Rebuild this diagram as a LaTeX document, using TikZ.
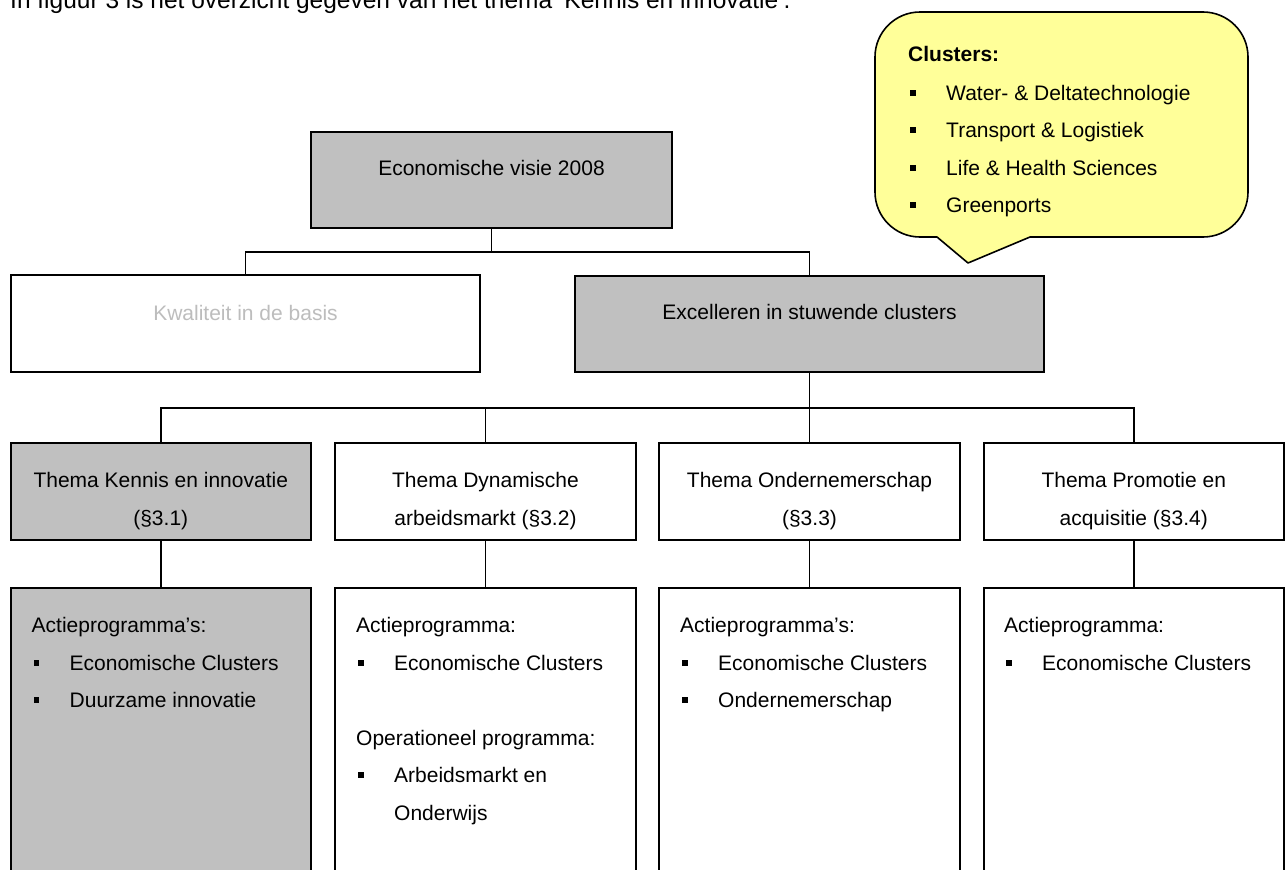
\documentclass[tikz,border=0pt]{standalone}
\usepackage{fontspec}
\setmainfont{Liberation Sans}
\definecolor{boxgray}{HTML}{C0C0C0}
\definecolor{callyellow}{HTML}{FFFF99}
\definecolor{fadetext}{HTML}{BDBDBD}
\newcommand{\bulitem}{\hspace*{2pt}\makebox[36pt][l]{\rule[4.5pt]{5.5pt}{6pt}}}
\tikzset{
  box/.style={draw, line width=2pt, inner sep=0pt, fill=white},
  graybox/.style={box, fill=boxgray},
  conn/.style={line width=1.6pt},
  txt/.style={inner sep=0pt, font=\fontsize{21}{37.5}\selectfont},
}
\begin{document}
\begin{tikzpicture}[x=1pt,y=-1pt]
\path[use as bounding box, clip] (0,0) rectangle (1285,870);

% intro sentence (cut at top, as in the source page)
\node[inner sep=0pt, font=\fontsize{24.5}{30}\selectfont, anchor=base west] (intro) at (10,8.5) {In figuur 3 is het overzicht gegeven van het thema `Kennis en innovatie'.};

% level 1
\node[graybox, minimum width=361pt, minimum height=96pt] (vis) at (491.5,180) {};
\node[txt, anchor=base] (vist) at (491.5,175.5) {Economische visie 2008};

% level 2
\node[box, minimum width=469pt, minimum height=97pt] (kwal) at (245.5,323.5) {};
\node[txt, anchor=base, text=fadetext] (kwalt) at (245.5,320.5) {Kwaliteit in de basis};
\node[graybox, minimum width=469pt, minimum height=96pt] (exc) at (809.5,324) {};
\node[txt, anchor=base] (exct) at (809.5,319.5) {Excelleren in stuwende clusters};

% level 3 (themes)
\node[graybox, minimum width=300.5pt, minimum height=97pt] (t1) at (160.75,491.5) {};
\node[box, minimum width=301pt, minimum height=97pt] (t2) at (485.5,491.5) {};
\node[box, minimum width=301pt, minimum height=97pt] (t3) at (809.5,491.5) {};
\node[box, minimum width=300.5pt, minimum height=97pt] (t4) at (1133.75,491.5) {};
\node[txt, anchor=base] (t1t) at (160.75,487.5) {\begin{tabular}[t]{@{}c@{}}Thema Kennis en innovatie\\(§3.1)\end{tabular}};
\node[txt, anchor=base] (t2t) at (485.5,487.5) {\begin{tabular}[t]{@{}c@{}}Thema Dynamische\\arbeidsmarkt (§3.2)\end{tabular}};
\node[txt, anchor=base] (t3t) at (809.5,487.5) {\begin{tabular}[t]{@{}c@{}}Thema Ondernemerschap\\(§3.3)\end{tabular}};
\node[txt, anchor=base] (t4t) at (1133.75,487.5) {\begin{tabular}[t]{@{}c@{}}Thema Promotie en\\acquisitie (§3.4)\end{tabular}};

% level 4 (programmes)
\node[graybox, minimum width=300.5pt, minimum height=320pt] (p1) at (160.75,748) {};
\node[box, minimum width=301pt, minimum height=320pt] (p2) at (485.5,748) {};
\node[box, minimum width=301pt, minimum height=320pt] (p3) at (809.5,748) {};
\node[box, minimum width=300.5pt, minimum height=320pt] (p4) at (1133.75,748) {};
\node[txt, anchor=base west] (p1t) at (31.5,632.5) {\begin{tabular}[t]{@{}l@{}}Actieprogramma’s:\\\bulitem Economische Clusters\\\bulitem Duurzame innovatie\end{tabular}};
\node[txt, anchor=base west] (p2t) at (356,632.5) {\begin{tabular}[t]{@{}l@{}}Actieprogramma:\\\bulitem Economische Clusters\\[37.5pt]Operationeel programma:\\\bulitem Arbeidsmarkt en\\\hspace*{38pt}Onderwijs\end{tabular}};
\node[txt, anchor=base west] (p3t) at (680,632.5) {\begin{tabular}[t]{@{}l@{}}Actieprogramma’s:\\\bulitem Economische Clusters\\\bulitem Ondernemerschap\end{tabular}};
\node[txt, anchor=base west] (p4t) at (1004,632.5) {\begin{tabular}[t]{@{}l@{}}Actieprogramma:\\\bulitem Economische Clusters\end{tabular}};

% connectors
\coordinate (j1) at (491.5,252);
\coordinate (j2) at (809.5,408);
\draw[conn] (vis.south) -- (j1);
\draw[conn] (kwal.north) |- (j1) -| (exc.north);
\draw[conn] (exc.south) -- (j2);
\draw[conn] (t1.north) |- (j2) -| (t4.north);
\draw[conn] (t2.north) -- (t2.north |- j2);
\draw[conn] (t3.north) -- (j2);
\draw[conn] (t1.south) -- (p1.north);
\draw[conn] (t2.south) -- (p2.north);
\draw[conn] (t3.south) -- (p3.north);
\draw[conn] (t4.south) -- (p4.north);

% callout
\draw[line width=1.6pt, fill=callyellow, line join=round]
  (875,57) arc[start angle=180, end angle=270, radius=45]
  -- (1203,12) arc[start angle=270, end angle=360, radius=45]
  -- (1248,192) arc[start angle=0, end angle=90, radius=45]
  -- (1030,237) -- (968,263) -- (937,237)
  -- (920,237) arc[start angle=90, end angle=180, radius=45]
  -- cycle;
\node[txt, anchor=base west] (callt) at (908,61.5) {\begin{tabular}[t]{@{}l@{}}\textbf{Clusters:}\\[1pt]\bulitem Water- \& Deltatechnologie\\\bulitem Transport \& Logistiek\\\bulitem Life \& Health Sciences\\\bulitem Greenports\end{tabular}};
\end{tikzpicture}
\end{document}
